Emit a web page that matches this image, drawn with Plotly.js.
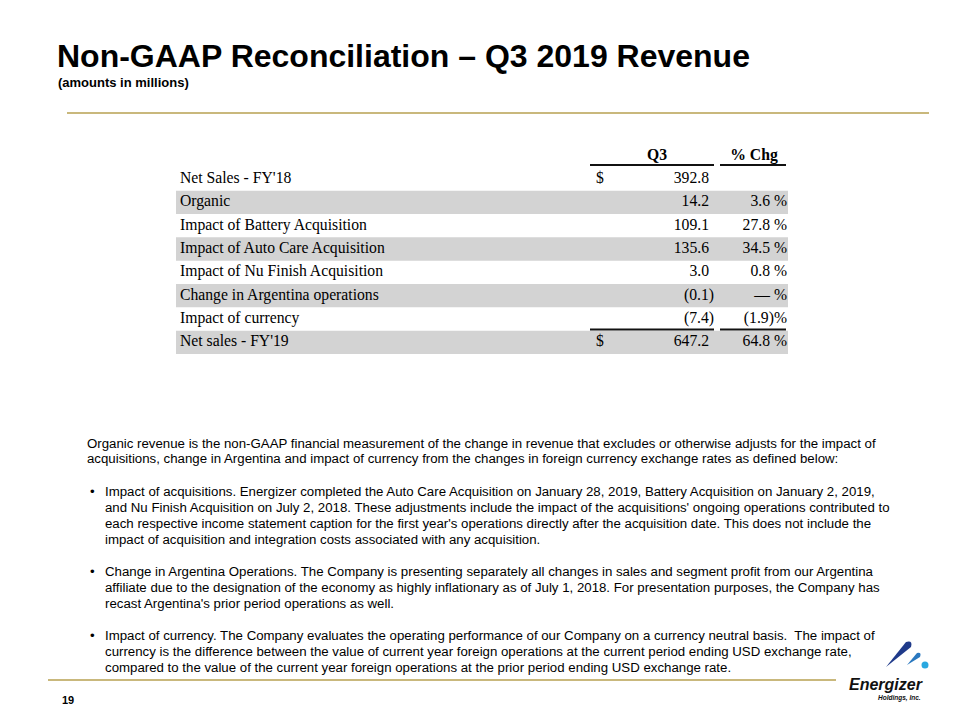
<!DOCTYPE html>
<html>
<head>
<meta charset="utf-8">
<script src="https://cdn.plot.ly/plotly-3.0.1.min.js"></script>
<style>html,body{margin:0;padding:0;background:#fff}#chart{width:960px;height:720px}</style>
</head>
<body>
<div id="chart"></div>
<script>
// ---------------- DATA ----------------
const rowLabels = [
  "Net Sales - FY'18",
  "Organic",
  "Impact of Battery Acquisition",
  "Impact of Auto Care Acquisition",
  "Impact of Nu Finish Acquisition",
  "Change in Argentina operations",
  "Impact of currency",
  "Net sales - FY'19"
];
const q3Values = [392.8, 14.2, 109.1, 135.6, 3.0, -0.1, -7.4, 647.2];
const pctChange = [null, 3.6, 27.8, 34.5, 0.8, 0.0, -1.9, 64.8];
const dollarRows = [true, false, false, false, false, false, false, true];
const shadedRows = [false, true, false, true, false, true, false, true];
const headerLabels = ["Q3", "% Chg"];

const titleText = "Non-GAAP Reconciliation \u2013 Q3 2019 Revenue";
const subtitleText = "(amounts in millions)";
const introLines = [
  "Organic revenue is the non-GAAP financial measurement of the change in revenue that excludes or otherwise adjusts for the impact of",
  "acquisitions, change in Argentina and impact of currency from the changes in foreign currency exchange rates as defined below:"
];
const bulletParagraphs = [
  [
    "Impact of acquisitions. Energizer completed the Auto Care Acquisition on January 28, 2019, Battery Acquisition on January 2, 2019,",
    "and Nu Finish Acquisition on July 2, 2018. These adjustments include the impact of the acquisitions' ongoing operations contributed to",
    "each respective income statement caption for the first year's operations directly after the acquisition date. This does not include the",
    "impact of acquisition and integration costs associated with any acquisition."
  ],
  [
    "Change in Argentina Operations. The Company is presenting separately all changes in sales and segment profit from our Argentina",
    "affiliate due to the designation of the economy as highly inflationary as of July 1, 2018. For presentation purposes, the Company has",
    "recast Argentina's prior period operations as well."
  ],
  [
    "Impact of currency. The Company evaluates the operating performance of our Company on a currency neutral basis.  The impact of",
    "currency is the difference between the value of current year foreign operations at the current period ending USD exchange rate,",
    "compared to the value of the current year foreign operations at the prior period ending USD exchange rate."
  ]
];
const pageNumber = "19";
const logoName = "Energizer";
const logoSub = "Holdings, Inc.";

// ---------------- LAYOUT CONSTANTS ----------------
const W = 960, H = 720;
const TABLE_LEFT = 176, TABLE_RIGHT = 788;
const LABEL_X = 180, DOLLAR_X = 596, Q3_RIGHT = 709, PCT_RIGHT = 787;
const HEAD_X = [657, 754];
const ROW0_PX = 179, ROW_H = 23.33;
const tableTopPx = ROW0_PX - 1.5 * ROW_H;
const tableBotPx = ROW0_PX + 7.5 * ROW_H;
const serif = "Liberation Serif, Times New Roman, serif";
const sans = "Liberation Sans, Arial, Helvetica, sans-serif";
const GOLD = "#c9b87c";
const px = x => x / W;
const py = y => 1 - y / H;

const rowIdx = rowLabels.map((_, i) => i);

function fmtQ3(v) { return v < 0 ? "(" + Math.abs(v).toFixed(1) + ")" : v.toFixed(1); }
function fmtPct(v) {
  if (v === null) return "";
  if (v === 0) return "\u2014 %";
  if (v < 0) return "(" + Math.abs(v).toFixed(1) + ")%";
  return v.toFixed(1) + " %";
}

const cellFont = { family: serif, size: 15.7, color: "#000000" };

const traces = [
  // shaded rows
  {
    type: "bar", orientation: "h",
    y: rowIdx.filter(i => shadedRows[i]),
    x: rowIdx.filter(i => shadedRows[i]).map(() => TABLE_RIGHT - TABLE_LEFT),
    base: TABLE_LEFT, width: 1,
    marker: { color: "#d3d3d3", line: { width: 0 } },
    hoverinfo: "skip", showlegend: false
  },
  // row labels
  {
    type: "scatter", mode: "text",
    x: rowIdx.map(() => LABEL_X), y: rowIdx,
    text: rowLabels, textposition: "middle right",
    textfont: cellFont, hoverinfo: "skip", showlegend: false
  },
  // dollar signs
  {
    type: "scatter", mode: "text",
    x: rowIdx.filter(i => dollarRows[i]).map(() => DOLLAR_X),
    y: rowIdx.filter(i => dollarRows[i]),
    text: rowIdx.filter(i => dollarRows[i]).map(() => "$"),
    textposition: "middle right",
    textfont: cellFont, hoverinfo: "skip", showlegend: false
  },
  // Q3 values
  {
    type: "scatter", mode: "text",
    x: q3Values.map(v => v < 0 ? Q3_RIGHT + 5 : Q3_RIGHT), y: rowIdx,
    text: q3Values.map(fmtQ3), textposition: "middle left",
    textfont: cellFont, hoverinfo: "skip", showlegend: false
  },
  // % change
  {
    type: "scatter", mode: "text",
    x: rowIdx.map(() => PCT_RIGHT), y: rowIdx,
    text: pctChange.map(fmtPct), textposition: "middle left",
    textfont: cellFont, hoverinfo: "skip", showlegend: false
  },
  // header
  {
    type: "scatter", mode: "text",
    x: HEAD_X, y: headerLabels.map(() => -1),
    text: headerLabels.map(t => "<b>" + t + "</b>"), textposition: "middle center",
    textfont: cellFont, hoverinfo: "skip", showlegend: false
  }
];

const shapes = [
  // gold rules
  { type: "line", xref: "paper", yref: "paper", x0: px(67), x1: px(929), y0: py(113), y1: py(113), line: { color: GOLD, width: 2 } },
  { type: "line", xref: "paper", yref: "paper", x0: px(48), x1: px(836), y0: py(680), y1: py(680), line: { color: GOLD, width: 2 } },
  // header underlines
  { type: "line", xref: "x", yref: "y", x0: 590, x1: 714, y0: -0.6, y1: -0.6, line: { color: "#111", width: 2 } },
  { type: "line", xref: "x", yref: "y", x0: 720, x1: 786, y0: -0.6, y1: -0.6, line: { color: "#111", width: 2 } },
  // total rules
  { type: "line", xref: "x", yref: "y", x0: 590, x1: 714, y0: 6.45, y1: 6.45, line: { color: "#111", width: 2 } },
  { type: "line", xref: "x", yref: "y", x0: 720, x1: 786, y0: 6.45, y1: 6.45, line: { color: "#111", width: 2 } },
  // logo marks
  { type: "path", xref: "paper", yref: "paper",
    path: `M ${px(886)},${py(667)} L ${px(906)},${py(642)} Q ${px(913)},${py(640)} ${px(911)},${py(647)} Z`,
    fillcolor: "#1f3a8a", line: { width: 0 } },
  { type: "path", xref: "paper", yref: "paper",
    path: `M ${px(907)},${py(665)} L ${px(917)},${py(653)} Q ${px(922)},${py(652)} ${px(920)},${py(657)} Z`,
    fillcolor: "#2a78bf", line: { width: 0 } },
  { type: "circle", xref: "paper", yref: "paper",
    x0: px(921.5), x1: px(928.5), y0: py(668.5), y1: py(661.5),
    fillcolor: "#29a8e0", line: { width: 0 } }
];

const annotations = [];
function addText(text, x, y, size, opts) {
  annotations.push(Object.assign({
    text: text, xref: "paper", yref: "paper", x: px(x), y: py(y),
    xanchor: "left", yanchor: "middle", showarrow: false,
    font: { family: sans, size: size, color: "#000" }, borderpad: 0
  }, opts || {}));
}
addText("<b>" + titleText + "</b>", 56, 56, 32);
addText("<b>" + subtitleText + "</b>", 57, 82, 13);

const LINE0 = 443, LINE_H = 16;
let k = 0;
introLines.forEach(t => { addText(t, 86, LINE0 + LINE_H * k, 13.25); k++; });
k++;
bulletParagraphs.forEach(par => {
  addText("\u2022", 89, LINE0 + LINE_H * k, 13.25);
  par.forEach(t => { addText(t, 104, LINE0 + LINE_H * k, 13.25); k++; });
  k++;
});
addText("<b>" + pageNumber + "</b>", 61, 700, 11);
addText("<b><i>" + logoName + "</i></b>", 848, 684, 16, { font: { family: sans, size: 16, color: "#111" } });
addText("<b><i>" + logoSub + "</i></b>", 877, 698, 6.5, { font: { family: sans, size: 6.5, color: "#111" } });

const layout = {
  width: W, height: H,
  margin: { l: 0, r: 0, t: 0, b: 0, pad: 0 },
  paper_bgcolor: "#ffffff", plot_bgcolor: "rgba(0,0,0,0)",
  showlegend: false,
  xaxis: { range: [0, W], domain: [0, 1], visible: false, fixedrange: true },
  yaxis: { range: [7.5, -1.5], domain: [1 - tableBotPx / H, 1 - tableTopPx / H], visible: false, fixedrange: true },
  shapes: shapes,
  annotations: annotations
};

Plotly.newPlot("chart", traces, layout, { staticPlot: true, displayModeBar: false });
</script>
</body>
</html>
